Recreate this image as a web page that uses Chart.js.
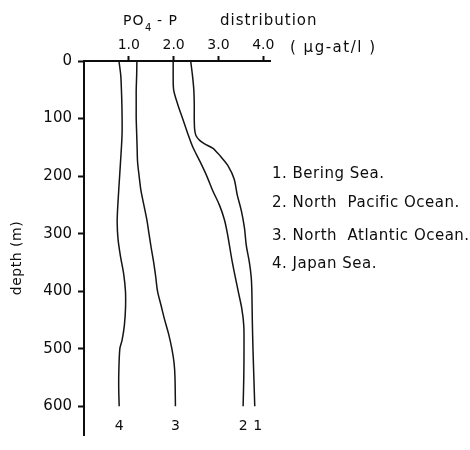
<!DOCTYPE html>
<html>
<head>
<meta charset="utf-8">
<script src="https://cdn.jsdelivr.net/npm/chart.js@4"></script>
<style>
  body { margin: 0; background: #fff; }
</style>
</head>
<body>
<canvas id="chart" width="470" height="450"></canvas>
<script>
// depth (m) and PO4-P (µg-at/l)
const beringDepth = [0, 25, 50, 75, 100, 120, 130, 138, 144, 152, 160, 166, 183, 205, 233, 260, 290, 320, 350, 375, 400, 450, 500, 550, 600];
const beringPO4 = [2.38, 2.42, 2.45, 2.46, 2.46, 2.47, 2.5, 2.58, 2.69, 2.88, 2.98, 3.05, 3.22, 3.35, 3.42, 3.51, 3.58, 3.62, 3.69, 3.73, 3.745, 3.755, 3.77, 3.79, 3.81];

const pacificDepth = [0, 25, 50, 75, 100, 125, 150, 175, 200, 225, 250, 275, 300, 350, 400, 430, 460, 500, 550, 600];
const pacificPO4 = [1.99, 1.99, 2.0, 2.09, 2.2, 2.31, 2.43, 2.59, 2.74, 2.87, 3.02, 3.13, 3.2, 3.31, 3.44, 3.52, 3.565, 3.57, 3.565, 3.55];

const atlanticDepth = [0, 25, 50, 75, 100, 125, 150, 175, 200, 225, 250, 275, 300, 325, 350, 375, 400, 425, 450, 475, 500, 525, 550, 600];
const atlanticPO4 = [1.18, 1.175, 1.165, 1.165, 1.165, 1.175, 1.185, 1.195, 1.23, 1.27, 1.335, 1.4, 1.45, 1.5, 1.555, 1.6, 1.64, 1.72, 1.8, 1.89, 1.96, 2.01, 2.03, 2.04];

const japanDepth = [0, 25, 50, 75, 100, 125, 150, 175, 200, 250, 280, 310, 340, 370, 400, 430, 460, 485, 500, 540, 570, 600];
const japanPO4 = [0.78, 0.82, 0.835, 0.845, 0.85, 0.85, 0.835, 0.815, 0.795, 0.755, 0.74, 0.76, 0.815, 0.885, 0.925, 0.926, 0.9, 0.85, 0.8, 0.777, 0.775, 0.785];

const depthTicks = [0, 100, 200, 300, 400, 500, 600];
const po4Ticks = [1, 2, 3, 4];

const seriesNames = ["1. Bering Sea.", "2. North  Pacific Ocean.", "3. North  Atlantic Ocean.", "4. Japan Sea."];
const endLabels = ["1", "2", "3", "4"];

const FONT = "DejaVu Sans";
const INK = "#0d0d0d";

const toPoints = (depth, vals) => depth.map((d, i) => ({ x: vals[i], y: d }));

const series = [
  toPoints(beringDepth, beringPO4),
  toPoints(pacificDepth, pacificPO4),
  toPoints(atlanticDepth, atlanticPO4),
  toPoints(japanDepth, japanPO4),
];

// text around the plot: title, units, legend, curve numbers, y title
const annotations = {
  id: "annotations",
  afterDraw(chart) {
    const ctx = chart.ctx;
    const xs = chart.scales.x;
    const ys = chart.scales.y;
    ctx.save();
    ctx.fillStyle = INK;
    ctx.textBaseline = "alphabetic";
    ctx.textAlign = "left";

    // title
    ctx.font = "14px '" + FONT + "'";
    ctx.letterSpacing = "1px";
    ctx.fillText("PO", 123, 25);
    ctx.font = "10px '" + FONT + "'";
    ctx.fillText("4", 145, 31);
    ctx.font = "14px '" + FONT + "'";
    ctx.fillText("- P", 157, 25);
    ctx.font = "15px '" + FONT + "'";
    ctx.fillText("distribution", 220, 25);

    // units
    ctx.letterSpacing = "1.5px";
    ctx.fillText("( µg-at/l )", 290, 52);

    // legend
    ctx.font = "15px '" + FONT + "'";
    ctx.letterSpacing = "0.5px";
    ctx.textBaseline = "middle";
    const legendY = [174, 203, 236, 264];
    seriesNames.forEach((t, i) => ctx.fillText(t, 272, legendY[i]));

    // curve numbers under the bottom ends
    ctx.font = "14px '" + FONT + "'";
    ctx.letterSpacing = "0px";
    ctx.textAlign = "center";
    series.forEach((pts, i) => {
      const last = pts[pts.length - 1];
      const off = i === 0 ? 3 : 0;
      ctx.fillText(endLabels[i], xs.getPixelForValue(last.x) + off, ys.getPixelForValue(last.y) + 20);
    });

    // y axis title
    ctx.translate(17, 258);
    ctx.rotate(-Math.PI / 2);
    ctx.font = "14px '" + FONT + "'";
    ctx.letterSpacing = "0.5px";
    ctx.fillText("depth (m)", 0, 0);
    ctx.restore();
  },
};

new Chart(document.getElementById("chart"), {
  type: "scatter",
  data: {
    datasets: series.map((pts) => ({
      data: pts,
      showLine: true,
      pointRadius: 0,
      borderColor: "#141414",
      borderWidth: 1.5,
      tension: 0.3,
    })),
  },
  options: {
    responsive: false,
    animation: false,
    devicePixelRatio: 1,
    layout: { padding: { left: 0, top: 0, right: 200, bottom: 0 } },
    plugins: {
      legend: { display: false },
      tooltip: { enabled: false },
    },
    scales: {
      x: {
        type: "linear",
        position: "top",
        min: 0,
        max: 4.15,
        afterBuildTicks: (s) => { s.ticks = po4Ticks.map((v) => ({ value: v })); },
        afterFit: (s) => { s.height = 61; },
        grid: { drawOnChartArea: false, drawTicks: true, tickLength: 5, tickWidth: 2, tickColor: INK },
        border: { display: true, width: 2, color: INK },
        ticks: {
          color: INK,
          padding: 2,
          font: { family: FONT, size: 14 },
          callback: (v) => v.toFixed(1),
        },
      },
      y: {
        type: "linear",
        reverse: true,
        min: 0,
        max: 650,
        afterBuildTicks: (s) => { s.ticks = depthTicks.map((v) => ({ value: v })); },
        afterFit: (s) => { s.width = 84; },
        grid: { drawOnChartArea: false, drawTicks: true, tickLength: 6, tickWidth: 2, tickColor: INK },
        border: { display: true, width: 2, color: INK },
        ticks: {
          color: INK,
          padding: 6,
          font: { family: FONT, size: 15 },
        },
      },
    },
  },
  plugins: [annotations],
});
</script>
</body>
</html>
